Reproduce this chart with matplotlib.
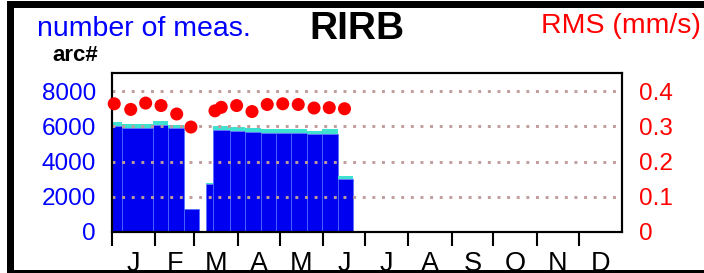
import matplotlib
matplotlib.use('Agg')
import matplotlib.pyplot as plt
from matplotlib.patches import Rectangle

plt.rcParams['font.family'] = ['Liberation Sans', 'DejaVu Sans']

# bins (day of year)
bin_left = [-3.9, 7.1, 29.1, 40.1, 51.2, 67.3, 72.5, 84.1, 95.3, 106.3, 117.3, 128.3, 139.3, 150.4, 161.4]
bin_right = [7.1, 29.1, 40.1, 51.2, 62.6, 72.5, 84.1, 95.3, 106.3, 117.3, 128.3, 139.3, 150.4, 161.4, 172.4]
arcs_main = [6020, 5930, 6060, 5890, 1290, 2700, 5810, 5720, 5660, 5620, 5620, 5620, 5550, 5550, 3020]
arcs_extra = [200, 220, 240, 210, 40, 110, 230, 220, 230, 230, 230, 250, 210, 280, 170]

rms_day = [1.6, 13.4, 24.1, 35.1, 46.3, 56.5, 73.7, 78.2, 89.2, 100.2, 111.1, 122.2, 133.3, 144.6, 155.5, 166.4]
rms = [0.364, 0.348, 0.366, 0.359, 0.335, 0.298, 0.344, 0.354, 0.359, 0.342, 0.362, 0.364, 0.362, 0.352, 0.353, 0.350]

month_start = [0, 31, 59, 90, 120, 151, 181, 212, 243, 273, 304, 334, 365]
month_labels = ['J', 'F', 'M', 'A', 'M', 'J', 'J', 'A', 'S', 'O', 'N', 'D']

left_ticks = [0, 2000, 4000, 6000, 8000]
right_ticks = [0, 0.1, 0.2, 0.3, 0.4]

W, H = 704, 273
fig = plt.figure(figsize=(W / 100, H / 100), dpi=100)
ax = fig.add_axes([112 / W, (H - 232) / H, 510 / W, 158.5 / H])

widths = [r - l for l, r in zip(bin_left, bin_right)]
ax.bar(bin_left, arcs_main, width=widths, align='edge', color='#0000f0',
       edgecolor='#4d70ff', linewidth=0.5, zorder=2)
ax.bar(bin_left, arcs_extra, width=widths, bottom=arcs_main, align='edge',
       color='#40e0d0', linewidth=0, zorder=2)

for v in left_ticks[1:]:
    ax.axhline(v, color='#bf9c9c', lw=2.1, linestyle=(0, (1, 2.3)),
               dash_capstyle='butt', zorder=3)

ax.set_xlim(0, 365)
ax.set_ylim(0, 9000)
ax.set_xticks(month_start[:-1])
ax.set_xticklabels([])
centers = [(a + b) / 2 for a, b in zip(month_start[:-1], month_start[1:])]
ax.set_xticks(centers, minor=True)
ax.set_xticklabels(month_labels, minor=True)
ax.tick_params(axis='x', which='major', length=10, width=1.5, direction='out', color='black')
ax.tick_params(axis='x', which='minor', length=0, pad=14, labelsize=19.5)
ax.set_yticks(left_ticks)
ax.set_yticklabels([str(v) for v in left_ticks])
ax.tick_params(axis='y', length=0, pad=11.5, labelsize=17.5, labelcolor='#0000ff')

ax2 = ax.twinx()
ax2.scatter(rms_day, rms, s=88, color='#ff0000', edgecolors='none', zorder=5, clip_on=False)
ax2.set_ylim(0, 0.45)
ax2.set_yticks(right_ticks)
ax2.set_yticklabels(['0', '0.1', '0.2', '0.3', '0.4'])
ax2.tick_params(axis='y', length=0, pad=12, labelsize=17.5, labelcolor='#ff0000')

for a in (ax, ax2):
    for s in a.spines.values():
        s.set_linewidth(1.5)
        s.set_color('black')

fig.text(37 / W, 1 - 36 / H, 'number of meas.', color='#0000ff', fontsize=20.5,
         ha='left', va='baseline')
fig.text(357 / W, 1 - 39.3 / H, 'RIRB', color='black', fontsize=28, fontweight='bold',
         ha='center', va='baseline')
fig.text(701 / W, 1 - 33.3 / H, 'RMS (mm/s)', color='#ff0000', fontsize=20.5,
         ha='right', va='baseline')
fig.text(52 / W, 1 - 61 / H, 'arc#', color='black', fontsize=16, fontweight='bold',
         ha='left', va='baseline')

# outer frame
frame = Rectangle((9.8 / W, 0.2 / H), 1.05, (272.6 - 3.3) / H, transform=fig.transFigure,
                  fill=False, edgecolor='black', linewidth=5.04, zorder=10, clip_on=False)
fig.patches.append(frame)

fig.savefig('out.png', dpi=100)
